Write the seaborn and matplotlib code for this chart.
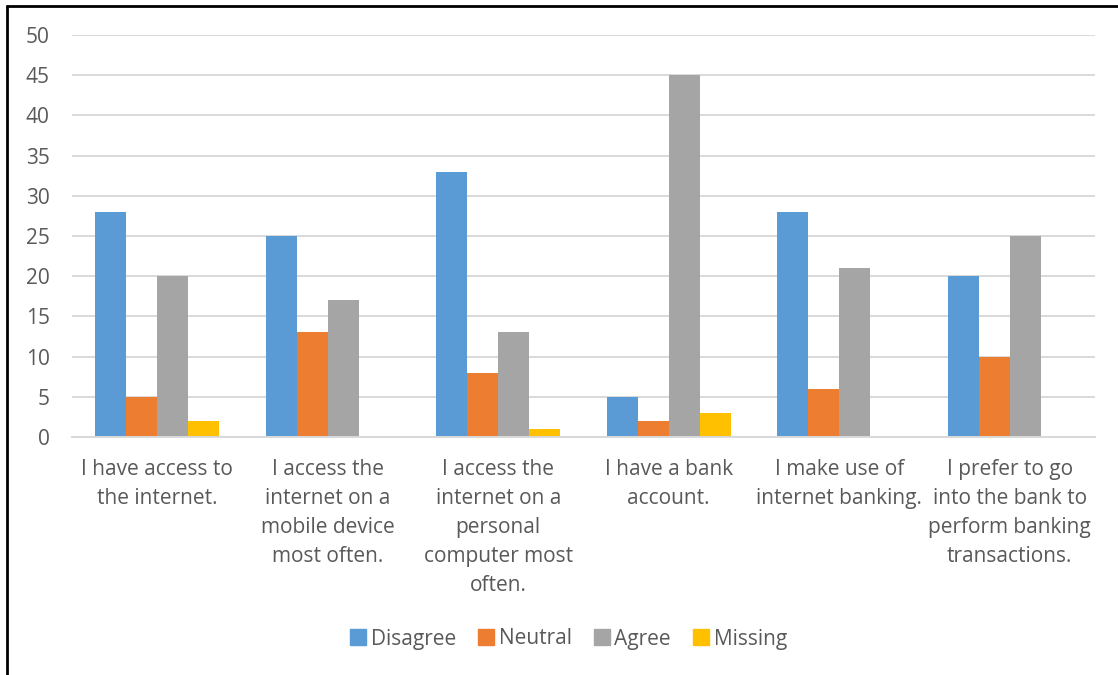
import matplotlib
matplotlib.use("Agg")
import matplotlib.pyplot as plt
import seaborn as sns
import pandas as pd
from matplotlib.lines import Line2D

categories = [
    "I have access to\nthe internet.",
    "I access the\ninternet on a\nmobile device\nmost often.",
    "I access the\ninternet on a\npersonal\ncomputer most\noften.",
    "I have a bank\naccount.",
    "I make use of\ninternet banking.",
    "I prefer to go\ninto the bank to\nperform banking\ntransactions.",
]
responses = ["Disagree", "Neutral", "Agree", "Missing"]
disagree = [28, 25, 33, 5, 28, 20]
neutral = [5, 13, 8, 2, 6, 10]
agree = [20, 17, 13, 45, 21, 25]
missing = [2, 0, 1, 3, 0, 0]
colors = ["#5B9BD5", "#ED7D31", "#A5A5A5", "#FFC000"]
yticks = [0, 5, 10, 15, 20, 25, 30, 35, 40, 45, 50]

rows = []
for resp, vals in zip(responses, [disagree, neutral, agree, missing]):
    for cat, v in zip(categories, vals):
        rows.append({"Statement": cat, "Response": resp, "Count": v})
df = pd.DataFrame(rows)

sns.set_theme(style="white")
plt.rcParams["font.family"] = ["Open Sans", "DejaVu Sans"]
text_color = "#595959"
fsize = 15

fig = plt.figure(figsize=(11.18, 6.75), dpi=100)
ax = fig.add_axes([72 / 1118, 1 - 437 / 675, (1095 - 72) / 1118, (437 - 35) / 675])

sns.barplot(
    data=df, x="Statement", y="Count", hue="Response",
    order=categories, hue_order=responses, palette=colors, saturation=1,
    width=0.73, linewidth=0, errorbar=None, ax=ax, legend=False,
)

ax.set_ylim(0, 50)
ax.set_xlim(-0.5, len(categories) - 0.5)
ax.set_yticks(yticks)
ax.set_yticklabels([str(t) for t in yticks])
ax.yaxis.grid(True, color="#D9D9D9", linewidth=1.4)
ax.set_axisbelow(True)
for s in ["top", "right", "left"]:
    ax.spines[s].set_visible(False)
ax.spines["bottom"].set_color("#D9D9D9")
ax.spines["bottom"].set_linewidth(1.4)
ax.tick_params(axis="both", length=0, labelsize=fsize, labelcolor=text_color)
ax.tick_params(axis="y", pad=16)
ax.tick_params(axis="x", pad=16)
for lbl in ax.get_xticklabels():
    lbl.set_linespacing(1.5)
ax.set_xlabel("")
ax.set_ylabel("")

handles = [Line2D([], [], marker="s", linestyle="none", markersize=11,
                  markerfacecolor=c, markeredgecolor=c) for c in colors]
fig.legend(handles, responses, loc="center", bbox_to_anchor=(0.508, 1 - 639 / 675),
           ncol=4, frameon=False, fontsize=fsize, labelcolor=text_color,
           handletextpad=0.15, columnspacing=1.0, handlelength=0.9)

# frame along the top and left edges of the figure
fig.add_artist(Line2D([7 / 1118, 7 / 1118], [0, 1 - 6 / 675], transform=fig.transFigure,
                      color="black", linewidth=2))
fig.add_artist(Line2D([7 / 1118, 1], [1 - 6 / 675, 1 - 6 / 675], transform=fig.transFigure,
                      color="black", linewidth=2))

fig.savefig("out.png", dpi=100, facecolor="white")
